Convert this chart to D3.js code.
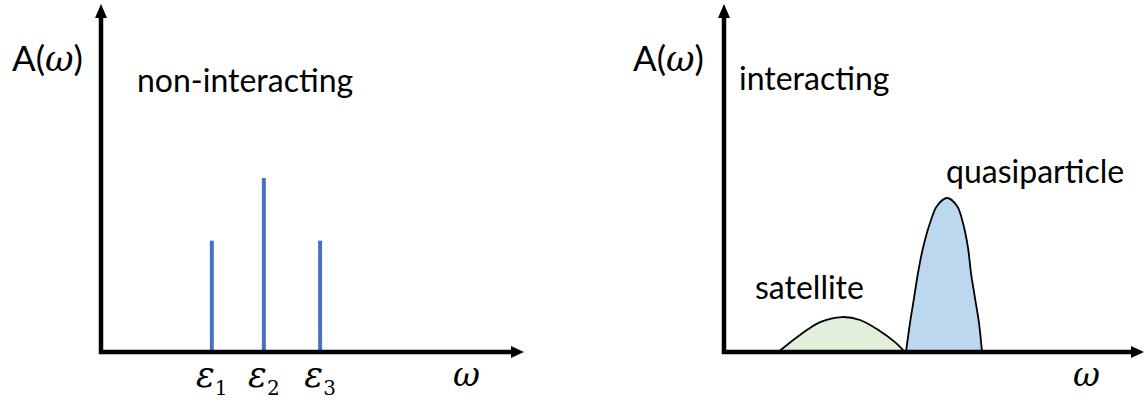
<!DOCTYPE html>
<html>
<head>
<meta charset="utf-8">
<script src="https://cdn.jsdelivr.net/npm/d3@7"></script>
<style>
  html, body { margin: 0; padding: 0; background: #fff; }
  svg { display: block; }
  .lbl { font-family: Lato, "Noto Sans", sans-serif; fill: #000; }
  .math { font-family: "DejaVu Serif", serif; font-style: italic; }
  .sub { font-family: "DejaVu Serif", serif; }
</style>
</head>
<body>
<svg id="chart" width="1145" height="403"></svg>
<script>
// Non-interacting levels: energies and spectral weights
const levelEnergies = [2.62, 3.85, 5.18];
const levelWeights  = [0.64, 1.00, 0.64];
const levelIndex    = ["1", "2", "3"];

// Interacting spectrum: satellite bump
const satOmega = [1.29, 1.81, 2.29, 2.81, 3.24, 3.71, 4.07, 4.31];
const satA     = [0.00, 0.098, 0.172, 0.201, 0.184, 0.121, 0.057, 0.00];

// Interacting spectrum: quasiparticle peak
const qpOmega = [4.333, 4.429, 4.524, 4.619, 4.738, 4.905, 5.071, 5.310,
                 5.548, 5.690, 5.810, 5.881, 5.976, 6.071, 6.143];
const qpA     = [0.000, 0.167, 0.310, 0.454, 0.598, 0.741, 0.839, 0.885,
                 0.839, 0.741, 0.598, 0.454, 0.310, 0.167, 0.000];

const svg = d3.select("#chart");

const y = d3.scaleLinear().domain([0, 2]).range([352, 4]);
const xL = d3.scaleLinear().domain([0, 10]).range([101, 524]);
const xR = d3.scaleLinear().domain([0, 10]).range([724, 1144]);

// Axis pair with arrowheads
function axes(x) {
  const x0 = x.range()[0], x1 = x.range()[1];
  const y0 = y.range()[0], y1 = y.range()[1];
  const g = svg.append("g");
  g.append("line").attr("x1", x0).attr("x2", x0)
    .attr("y1", y0 + 2).attr("y2", y1 + 12)
    .attr("stroke", "#000").attr("stroke-width", 4.5);
  g.append("line").attr("x1", x0 - 2).attr("x2", x1 - 10)
    .attr("y1", y0).attr("y2", y0)
    .attr("stroke", "#000").attr("stroke-width", 4.5);
  g.append("path")
    .attr("d", `M${x0},${y1} L${x0 + 6},${y1 + 14} L${x0 - 6},${y1 + 14} Z`)
    .attr("fill", "#000");
  g.append("path")
    .attr("d", `M${x1},${y0} L${x1 - 13},${y0 + 6} L${x1 - 13},${y0 - 6} Z`)
    .attr("fill", "#000");
  return g;
}

// Axis titles: A(ω), ω and the panel name
function titles(ax, omegaX, name, nameX, nameY) {
  const t = svg.append("text").attr("class", "lbl")
    .attr("x", ax).attr("y", 71).attr("font-size", 35);
  t.append("tspan").text("A(");
  t.append("tspan").attr("class", "math").text("ω");
  t.append("tspan").text(")");
  svg.append("text").attr("class", "lbl math")
    .attr("x", omegaX).attr("y", 386)
    .attr("font-size", 33).text("ω");
  svg.append("text").attr("class", "lbl")
    .attr("x", nameX).attr("y", nameY)
    .attr("font-size", 32).text(name);
}

// Left panel: delta-like levels
svg.append("g").selectAll("line")
  .data(levelEnergies)
  .join("line")
  .attr("x1", d => xL(d)).attr("x2", d => xL(d))
  .attr("y1", y(0)).attr("y2", (d, i) => y(levelWeights[i]))
  .attr("stroke", "#4472C4").attr("stroke-width", 4);

const eps = svg.append("g").selectAll("text")
  .data(levelEnergies)
  .join("text")
  .attr("class", "lbl")
  .attr("x", d => xL(d)).attr("y", 387)
  .attr("text-anchor", "middle");
eps.append("tspan").attr("class", "math").attr("font-size", 35).text("ε");
eps.append("tspan").attr("class", "sub").attr("font-size", 20).attr("dy", 8)
  .text((d, i) => levelIndex[i]);

axes(xL);
titles(12, 453, "non-interacting", 137, 92);

// Right panel: satellite and quasiparticle
const area = (xs, ys) => d3.area()
  .x((d, i) => xR(xs[i])).y0(y(0)).y1((d, i) => y(ys[i]))
  .curve(d3.curveCatmullRom)(xs);
const line = (xs, ys) => d3.line()
  .x((d, i) => xR(xs[i])).y((d, i) => y(ys[i]))
  .curve(d3.curveCatmullRom)(xs);

svg.append("path").attr("d", area(satOmega, satA)).attr("fill", "#E2EFDA");
svg.append("path").attr("d", line(satOmega, satA))
  .attr("fill", "none").attr("stroke", "#000").attr("stroke-width", 1.8);
svg.append("path").attr("d", area(qpOmega, qpA)).attr("fill", "#BDD7EE");
svg.append("path").attr("d", line(qpOmega, qpA))
  .attr("fill", "none").attr("stroke", "#000").attr("stroke-width", 1.8);

axes(xR);
titles(633, 1073, "interacting", 739, 90);

svg.append("text").attr("class", "lbl").attr("x", 755).attr("y", 299)
  .attr("font-size", 32).text("satellite");
svg.append("text").attr("class", "lbl").attr("x", 946).attr("y", 183)
  .attr("font-size", 32).text("quasiparticle");
</script>
</body>
</html>
